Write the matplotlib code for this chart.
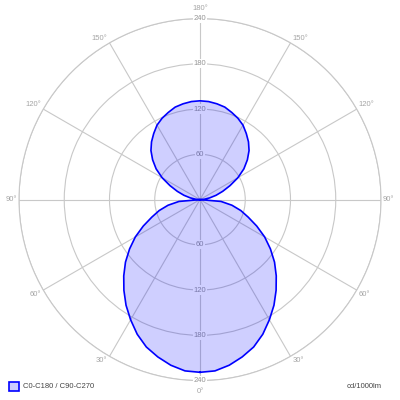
import numpy as np
import matplotlib
matplotlib.use("Agg")
import matplotlib.pyplot as plt
from matplotlib.patches import Rectangle

# ---- data ----
gamma_deg = [0, 5, 10, 15, 20, 25, 30, 35, 40, 45, 50, 55, 60, 65, 70, 75, 80, 85, 90,
             95, 100, 105, 110, 115, 120, 125, 130, 135, 140, 145, 150, 155, 160, 165, 170, 175, 180]
intensity_cd = [229, 228, 223, 216, 208, 197, 184, 171, 157, 143, 129, 114, 99, 83, 68, 56, 43, 28, 0,
                6, 13, 22, 32, 44, 58, 71, 82, 92, 100, 107, 114, 119, 123, 127, 129, 130.5, 131]
ring_values = [60, 120, 180, 240]
angle_ticks = [0, 30, 60, 90, 120, 150, 180]
series_label = "C0-C180 / C90-C270"
unit_label = "cd/1000lm"

# ---- figure ----
plt.rcParams['font.family'] = ['Liberation Sans', 'DejaVu Sans']
fig = plt.figure(figsize=(4, 4), dpi=100)
ax = fig.add_axes([0.0475, 0.0485, 0.905, 0.905], projection='polar')
ax.set_theta_zero_location('S')
ax.set_theta_direction(1)
ax.set_ylim(0, 240)

grid_col = '#c8c8c8'
ax.set_rticks(ring_values)
ax.set_yticklabels([])
ax.set_thetagrids(list(range(0, 360, 30)))
ax.set_xticklabels([])
ax.grid(True, color=grid_col, linewidth=0.8)
ax.spines['polar'].set_color(grid_col)
ax.spines['polar'].set_linewidth(0.8)
ax.tick_params(length=0)

# curve: one side (gamma) and its mirror
g = np.array(gamma_deg, dtype=float)
I = np.array(intensity_cd, dtype=float)
theta = np.deg2rad(np.concatenate([g, 360 - g[::-1]]))
rr = np.concatenate([I, I[::-1]])

ax.fill(theta, rr, color=(0, 0, 1), alpha=0.19, lw=0, zorder=3)
ax.plot(theta, rr, color='#0000ff', lw=1.2, zorder=4)

# ring labels along the vertical axis
fs = 5.5
lab_col = '#959595'
for v in ring_values:
    for th in (0, np.pi):
        ax.text(th, v, str(v), ha='center', va='center', fontsize=fs, color=lab_col,
                zorder=2.8, bbox=dict(boxstyle='square,pad=0.15', fc='white', ec='none'))

# angle labels
ang_col = '#a5a5a5'
for a in angle_ticks:
    for side in (1, -1):
        if a in (0, 180) and side == -1:
            continue
        th = np.deg2rad(a if side == 1 else 360 - a)
        if a == 0:
            ax.annotate(f"{a}°", (th, 240), xytext=(0, -7.5), textcoords='offset points',
                        ha='center', va='center', fontsize=fs, color=ang_col, annotation_clip=False)
        elif a == 180:
            ax.annotate(f"{a}°", (th, 240), xytext=(0, 7), textcoords='offset points',
                        ha='center', va='center', fontsize=fs, color=ang_col, annotation_clip=False)
        else:
            ha = 'left' if side == 1 else 'right'
            dx = 1.5 if side == 1 else -1.5
            if a == 90:
                dy, va = 0, 'center'
            elif a > 90:
                dy, va = 0.5, 'bottom'
            else:
                dy, va = -0.5, 'top'
            ax.annotate(f"{a}°", (th, 240), xytext=(dx, dy), textcoords='offset points',
                        ha=ha, va=va, fontsize=fs, color=ang_col, annotation_clip=False)

# legend and unit
fig.patches.append(Rectangle((9 / 400, 1 - 391 / 400), 10 / 400, 9 / 400, transform=fig.transFigure,
                             fc='#ccccff', ec='#0000ff', lw=1.2))
fig.text(23 / 400, 1 - 386 / 400, series_label, fontsize=fs, color='#444444', ha='left', va='center')
fig.text(382 / 400, 1 - 386 / 400, unit_label, fontsize=fs, color='#444444', ha='right', va='center')

fig.savefig("out.png", dpi=100, facecolor='white')
